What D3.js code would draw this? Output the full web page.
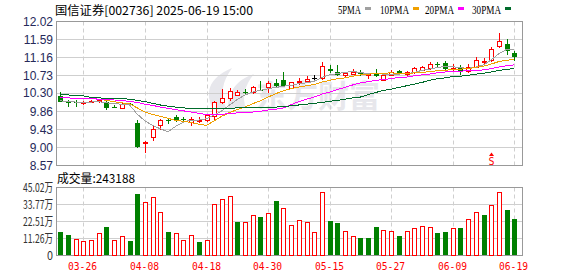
<!DOCTYPE html>
<html>
<head>
<meta charset="utf-8">
<script src="https://cdn.jsdelivr.net/npm/d3@7"></script>
<style>
  body { margin: 0; background: #fff; }
  svg { display: block; }
</style>
</head>
<body>
<div class="main"></div>
<script>
// ---- data ----
const dates = ["03-21","03-24","03-25","03-26","03-27","03-28","03-31","04-01","04-02","04-03",
  "04-07","04-08","04-09","04-10","04-11","04-14","04-15","04-16","04-17","04-18",
  "04-21","04-22","04-23","04-24","04-25","04-28","04-29","04-30","05-06","05-07",
  "05-08","05-09","05-12","05-13","05-14","05-15","05-16","05-19","05-20","05-21",
  "05-22","05-23","05-26","05-27","05-28","05-29","05-30","06-03","06-04","06-05",
  "06-06","06-09","06-10","06-11","06-12","06-13","06-16","06-17","06-18","06-19"];

const opens = [10.23,10.08,10.08,10.06,10.11,10.11,10.10,9.98,9.95,10.04,
  9.58,9.11,9.26,9.54,9.66,9.73,9.68,9.61,9.66,9.67,
  9.75,10.09,10.19,10.26,10.34,10.32,10.39,10.45,10.54,10.62,
  10.42,10.57,10.59,10.66,10.66,10.88,10.81,10.75,10.77,10.79,
  10.73,10.79,10.63,10.75,10.83,10.76,10.81,10.86,10.91,10.99,
  11.02,10.89,10.94,10.84,10.93,11.06,11.10,11.43,11.47,11.26];
const highs = [10.32,10.13,10.13,10.11,10.15,10.16,10.13,10.03,10.07,10.07,
  9.65,9.16,9.52,9.69,9.70,9.79,9.72,9.72,9.73,9.79,
  10.11,10.41,10.43,10.39,10.40,10.48,10.60,10.59,10.64,10.81,
  10.58,10.66,10.71,10.74,11.05,10.98,10.97,10.82,10.89,10.86,
  10.78,10.89,10.78,10.86,10.87,10.83,10.94,10.95,11.05,11.06,
  11.08,10.99,10.98,11.00,11.16,11.15,11.40,11.75,11.60,11.31];
const lows = [10.08,9.97,9.97,10.03,10.07,10.07,9.91,9.95,9.92,9.98,
  8.98,8.88,9.16,9.42,9.57,9.61,9.62,9.52,9.59,9.62,
  9.63,10.05,10.11,10.24,10.25,10.28,10.35,10.31,10.44,10.46,
  10.40,10.50,10.56,10.60,10.63,10.78,10.72,10.70,10.74,10.71,
  10.65,10.70,10.63,10.71,10.75,10.72,10.77,10.83,10.87,10.91,
  10.85,10.84,10.74,10.78,10.90,10.99,11.06,11.39,11.22,11.07];
const closes = [10.09,10.06,10.07,10.10,10.12,10.13,9.94,9.97,10.05,10.02,
  9.01,9.14,9.44,9.65,9.64,9.66,9.67,9.68,9.67,9.77,
  10.09,10.19,10.36,10.32,10.33,10.45,10.38,10.55,10.47,10.48,
  10.56,10.59,10.65,10.66,10.95,10.84,10.74,10.79,10.81,10.78,
  10.76,10.72,10.73,10.81,10.77,10.80,10.91,10.93,10.99,10.98,
  10.88,10.90,10.81,10.94,11.10,11.08,11.37,11.55,11.32,11.16];
const prevClose = 10.20;

// volume, in 万 shares
const volumes = [15.8,13.8,11.0,9.9,10.3,14.9,19.1,10.3,13.0,9.9,
  40.8,35.4,38.9,28.8,15.8,14.9,10.3,13.6,9.2,10.3,
  34.0,37.3,39.5,22.4,22.4,26.8,25.7,28.1,36.2,31.4,
  20.4,23.5,22.2,15.6,41.9,23.1,21.7,16.3,13.0,11.9,
  11.9,19.1,16.9,16.3,13.2,16.3,18.2,19.8,18.9,15.2,
  15.8,18.2,18.4,24.2,28.8,27.0,33.4,41.9,30.3,24.32];
const lastVolume = "243188";

const ma5 = [10.12,10.10,10.09,10.08,10.09,10.10,10.07,10.05,10.04,10.02,
  9.80,9.64,9.53,9.45,9.38,9.51,9.61,9.66,9.66,9.69,
  9.78,9.88,10.02,10.15,10.26,10.33,10.37,10.41,10.44,10.47,
  10.49,10.53,10.55,10.59,10.68,10.74,10.77,10.80,10.83,10.79,
  10.78,10.77,10.76,10.76,10.76,10.77,10.80,10.85,10.88,10.92,
  10.94,10.94,10.91,10.90,10.93,10.98,11.10,11.25,11.35,11.36];
const ma10 = [10.19,10.19,10.18,10.18,10.17,10.16,10.13,10.10,10.07,10.05,
  9.95,9.85,9.79,9.75,9.70,9.65,9.63,9.60,9.56,9.53,
  9.64,9.75,9.84,9.91,9.97,10.05,10.12,10.21,10.29,10.36,
  10.41,10.45,10.48,10.51,10.57,10.61,10.65,10.67,10.71,10.74,
  10.76,10.77,10.78,10.79,10.77,10.77,10.79,10.80,10.82,10.84,
  10.85,10.87,10.88,10.89,10.92,10.95,11.00,11.06,11.09,11.11];
const ma20 = [10.19,10.19,10.18,10.18,10.17,10.16,10.15,10.14,10.12,10.11,
  10.08,10.04,10.01,9.97,9.94,9.91,9.88,9.85,9.82,9.79,
  9.79,9.80,9.81,9.83,9.84,9.85,9.87,9.90,9.92,9.95,
  10.03,10.10,10.16,10.21,10.28,10.33,10.39,10.44,10.50,10.55,
  10.58,10.61,10.63,10.65,10.68,10.69,10.72,10.74,10.76,10.79,
  10.81,10.82,10.83,10.84,10.85,10.86,10.89,10.93,10.96,10.98];
const ma30 = [10.26,10.26,10.25,10.24,10.20,10.19,10.18,10.18,10.17,10.16,
  10.13,10.10,10.06,10.02,9.99,9.97,9.95,9.94,9.94,9.94,
  9.94,9.94,9.94,9.95,9.95,9.96,9.96,9.96,9.97,9.98,
  10.00,10.02,10.04,10.06,10.08,10.11,10.13,10.16,10.19,10.21,
  10.27,10.32,10.37,10.40,10.44,10.48,10.52,10.56,10.61,10.65,
  10.67,10.70,10.71,10.73,10.76,10.78,10.81,10.85,10.87,10.90];

const priceTicks = ["12.02","11.59","11.16","10.73","10.30","9.86","9.43","9.00","8.57"];
const volTicks = ["45.02万","33.77万","22.51万","11.26万","0"];
const volTickValues = [45.02, 33.77, 22.51, 11.26, 0];
const dateTicks = ["03-26","04-08","04-18","04-30","05-15","05-27","06-09","06-19"];
const maNames = ["5PMA","10PMA","20PMA","30PMA"];
const markerDate = "06-16";
const title = "国信证券[002736] 2025-06-19 15:00";

// ---- layout ----
const W = 578, H = 276;
const left = 56.5, right = 522.5;
const priceTop = 21.5, priceBottom = 165.5;
const volTop = 187.5, volBottom = 255.5;
const maColors = ["#a0a0a0", "#f0a000", "#ff00ff", "#006b2b"];
const upColor = "#ff0000", downColor = "#008000";
const gridColor = "#cfcfcf", frameColor = "#999";
const cnFont = "'Noto Sans CJK SC', sans-serif";

const x = d3.scalePoint().domain(dates).range([60.3, 514.3]);
const y = d3.scaleLinear().domain([8.57, 12.02]).range([priceBottom, priceTop]);
const yv = d3.scaleLinear().domain([0, 45.02]).range([volBottom, volTop]);
const cx = d => Math.round(x(d)) + 0.5;

const bars = dates.map((d, i) => ({
  date: d, o: opens[i], h: highs[i], l: lows[i], c: closes[i], v: volumes[i],
  prev: i === 0 ? prevClose : closes[i - 1]
}));

svg = d3.select('.main').append('svg')
  .attr("width", W).attr("height", H)
  .attr("viewBox", "0 0 " + W + " " + H);

// watermark
const wm = svg.append("g").attr("fill", "#e7e7ec");
wm.append("path")
  .attr("d", "M214,110 C204,94 208,78 232,68 C222,82 220,94 226,108 Z M228,108 C228,92 236,80 254,74 C244,86 242,98 246,108 Z");
wm.append("text")
  .attr("x", 256).attr("y", 107)
  .attr("font-family", cnFont).attr("font-weight", "bold")
  .attr("font-size", 31)
  .text("东方财富");

// ---- price panel grid ----
const priceGrid = svg.append("g");
priceGrid.selectAll("line.h").data(priceTicks.slice(1, -1)).enter().append("line")
  .attr("x1", left).attr("x2", right)
  .attr("y1", d => Math.round(y(+d) - 0.5) + 0.5).attr("y2", d => Math.round(y(+d) - 0.5) + 0.5)
  .attr("stroke", gridColor);

function vGrid(g, y1, y2) {
  g.selectAll("line.v").data(dateTicks).enter().append("line")
    .attr("x1", d => cx(d)).attr("x2", d => cx(d))
    .attr("y1", y1).attr("y2", y2)
    .attr("stroke", gridColor)
    .attr("stroke-dasharray", "4,3");
}
vGrid(priceGrid, priceTop, priceBottom);

priceGrid.append("rect")
  .attr("x", left).attr("y", priceTop)
  .attr("width", right - left).attr("height", priceBottom - priceTop)
  .attr("fill", "none").attr("stroke", frameColor);

svg.append("g").selectAll("text").data(priceTicks).enter().append("text")
  .attr("x", 53).attr("y", d => y(+d)).attr("dy", "0.35em")
  .attr("text-anchor", "end")
  .attr("font-family", "'Liberation Sans', Arial, sans-serif")
  .attr("font-size", 12).attr("fill", "#26295a")
  .text(d => d);

// ---- volume panel grid ----
const volGrid = svg.append("g");
volGrid.selectAll("line.h").data(volTickValues.slice(1, -1)).enter().append("line")
  .attr("x1", left).attr("x2", right)
  .attr("y1", d => yv(d)).attr("y2", d => yv(d))
  .attr("stroke", gridColor);
vGrid(volGrid, volTop, volBottom);
volGrid.append("rect")
  .attr("x", left).attr("y", volTop)
  .attr("width", right - left).attr("height", volBottom - volTop)
  .attr("fill", "none").attr("stroke", frameColor);

svg.append("g").selectAll("text").data(volTicks).enter().append("text")
  .attr("x", 53).attr("y", (d, i) => yv(volTickValues[i])).attr("dy", "0.35em")
  .attr("text-anchor", "end")
  .attr("font-family", cnFont)
  .attr("font-size", 12).attr("fill", "#333")
  .attr("textLength", d => d.length > 1 ? 30 : 6).attr("lengthAdjust", "spacingAndGlyphs")
  .text(d => d);

// date labels
svg.append("g").selectAll("text").data(dateTicks).enter().append("text")
  .attr("x", d => cx(d) - 1).attr("y", 270)
  .attr("text-anchor", "middle")
  .attr("font-family", "'DejaVu Sans Mono', monospace")
  .attr("font-size", 11).attr("fill", upColor)
  .attr("textLength", 29).attr("lengthAdjust", "spacingAndGlyphs")
  .text(d => d);

// ---- candles ----
const candles = svg.append("g").attr("shape-rendering", "crispEdges");
const colorOf = d => d.c > d.o ? upColor : (d.c < d.o ? downColor : "#000");

candles.selectAll("line.wick").data(bars).enter().append("line")
  .attr("x1", d => cx(d.date)).attr("x2", d => cx(d.date))
  .attr("y1", d => Math.round(y(d.h))).attr("y2", d => Math.round(y(d.l)))
  .attr("stroke", colorOf);

candles.selectAll("rect.body").data(bars.filter(d => d.c !== d.o)).enter().append("rect")
  .attr("x", d => d.c > d.o ? cx(d.date) - 2 : cx(d.date) - 2.5)
  .attr("y", d => d.c > d.o ? Math.round(y(d.c)) + 0.5 : Math.round(y(d.o)))
  .attr("width", d => d.c > d.o ? 4 : 5)
  .attr("height", d => Math.max(1, Math.abs(Math.round(y(d.o)) - Math.round(y(d.c)))))
  .attr("fill", d => d.c > d.o ? "#fff" : downColor)
  .attr("stroke", d => d.c > d.o ? upColor : "none");

candles.selectAll("line.flat").data(bars.filter(d => d.c === d.o)).enter().append("line")
  .attr("x1", d => cx(d.date) - 2.5).attr("x2", d => cx(d.date) + 2.5)
  .attr("y1", d => Math.round(y(d.c)) + 0.5).attr("y2", d => Math.round(y(d.c)) + 0.5)
  .attr("stroke", "#000");

// ---- moving averages ----
const line = d3.line().x((d, i) => x(dates[i])).y(d => y(d));
svg.append("g").attr("fill", "none").attr("shape-rendering", "crispEdges")
  .selectAll("path").data([ma5, ma10, ma20, ma30]).enter().append("path")
  .attr("d", line)
  .attr("stroke", (d, i) => maColors[i])
  .attr("stroke-width", 1);

// marker below candle
const mx = cx(markerDate);
const marker = svg.append("g").attr("fill", upColor);
marker.append("path").attr("d", `M${mx - 2.5},156 L${mx},152.5 L${mx + 2.5},156 Z`);
marker.append("text")
  .attr("x", mx).attr("y", 164.5).attr("text-anchor", "middle")
  .attr("font-family", "'DejaVu Sans Mono', monospace").attr("font-size", 10)
  .text("S");

// ---- volume bars ----
const vols = svg.append("g").attr("shape-rendering", "crispEdges");
vols.selectAll("rect").data(bars).enter().append("rect")
  .attr("x", d => d.c >= d.prev ? cx(d.date) - 2 : cx(d.date) - 2.5)
  .attr("y", d => d.c >= d.prev ? Math.round(yv(d.v)) + 0.5 : Math.round(yv(d.v)))
  .attr("width", d => d.c >= d.prev ? 4 : 5)
  .attr("height", d => volBottom - 0.5 - Math.round(yv(d.v)) - (d.c >= d.prev ? 0.5 : 0))
  .attr("fill", d => d.c >= d.prev ? "#fff" : downColor)
  .attr("stroke", d => d.c >= d.prev ? upColor : "none");

// ---- header texts ----
svg.append("text")
  .attr("x", 55).attr("y", 14.5)
  .attr("font-family", cnFont).attr("font-size", 12).attr("fill", "#000")
  .attr("textLength", 198).attr("lengthAdjust", "spacingAndGlyphs")
  .text(title);

const legendX = [338, 380, 425, 472];
const lg = svg.append("g").selectAll("g").data(maNames).enter().append("g")
  .attr("transform", (d, i) => "translate(" + legendX[i] + ",0)");
lg.append("text")
  .attr("y", 13.5)
  .attr("font-family", "'Liberation Serif', serif").attr("font-size", 12).attr("fill", "#000")
  .attr("textLength", d => d.length * 6 - 1).attr("lengthAdjust", "spacingAndGlyphs")
  .text(d => d);
lg.append("rect")
  .attr("x", d => d.length * 6 + 3).attr("y", 7)
  .attr("width", 6).attr("height", 3)
  .attr("fill", (d, i) => maColors[i]);

svg.append("text")
  .attr("x", 57).attr("y", 182.5)
  .attr("font-family", cnFont).attr("font-size", 12).attr("fill", "#000")
  .attr("textLength", 78).attr("lengthAdjust", "spacingAndGlyphs")
  .text("成交量:" + lastVolume);
</script>
</body>
</html>
